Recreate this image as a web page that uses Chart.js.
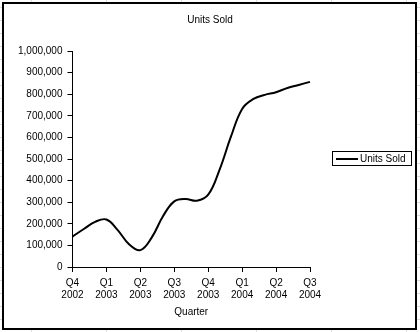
<!DOCTYPE html>
<html>
<head>
<meta charset="utf-8">
<script src="https://cdn.jsdelivr.net/npm/chart.js@4"></script>
<style>
  html, body { margin: 0; padding: 0; background: #fff; }
  #wrap { width: 420px; height: 332px; }
</style>
</head>
<body>
<div id="wrap"><canvas id="chart"></canvas></div>
<script>
// quarter tick labels, one every third month
const quarters = [['Q4', '2002'], ['Q1', '2003'], ['Q2', '2003'], ['Q3', '2003'],
                  ['Q4', '2003'], ['Q1', '2004'], ['Q2', '2004'], ['Q3', '2004']];
// monthly units sold
const unitsSold = [141000, 176000, 209000, 220000, 171000, 105000, 78000,
                   136000, 235000, 304000, 315000, 307000, 335000, 450000,
                   602000, 732000, 778000, 797000, 809000, 829000, 843000, 857000];
const yTicks = [0, 100000, 200000, 300000, 400000, 500000, 600000, 700000, 800000, 900000, 1000000];
const chartTitle = 'Units Sold';

const labels = unitsSold.map((v, i) => (i % 3 === 0 ? quarters[i / 3] : ''));
const font = { family: 'Arial, "Liberation Sans", sans-serif', size: 10 };

// sheet background, outer frame and title across the full width
const frame = {
  id: 'frame',
  beforeDraw(chart) {
    const c = chart.ctx;
    c.save();
    c.fillStyle = '#fff';
    c.fillRect(0, 0, chart.width, chart.height);
    c.strokeStyle = '#dcdcdc';
    c.lineWidth = 1;
    for (let x = 31.5; x < chart.width; x += 75) {
      c.beginPath(); c.moveTo(x, 0); c.lineTo(x, chart.height); c.stroke();
    }
    for (let y = 7.5; y < chart.height; y += 13) {
      c.beginPath(); c.moveTo(0, y); c.lineTo(chart.width, y); c.stroke();
    }
    c.fillStyle = '#fff';
    c.fillRect(2, 2, 415, 328);
    c.strokeStyle = '#000';
    c.lineWidth = 2;
    c.strokeRect(3, 3, 413, 326);
    c.fillStyle = '#000';
    c.font = '10px Arial, "Liberation Sans", sans-serif';
    c.textAlign = 'center';
    c.textBaseline = 'middle';
    c.fillText(chartTitle, chart.width / 2, 20);
    c.restore();
  }
};

// boxed legend on the right
const boxLegend = {
  id: 'boxLegend',
  afterDraw(chart) {
    const c = chart.ctx;
    const a = chart.chartArea;
    const ds = chart.data.datasets[0];
    const x = a.right + 22;
    const y = Math.round((a.top + a.bottom) / 2) - 0.5;
    c.save();
    c.font = '10px Arial, "Liberation Sans", sans-serif';
    const w = 28 + c.measureText(ds.label).width + 5;
    c.strokeStyle = '#000';
    c.lineWidth = 1;
    c.strokeRect(x + 0.5, y - 7, Math.round(w), 14);
    c.strokeStyle = ds.borderColor;
    c.lineWidth = 2;
    c.beginPath(); c.moveTo(x + 4, y + 0.5); c.lineTo(x + 26, y + 0.5); c.stroke();
    c.fillStyle = '#000';
    c.textBaseline = 'middle';
    c.fillText(ds.label, x + 28, y + 1);
    c.restore();
  }
};

new Chart(document.getElementById('chart'), {
  type: 'line',
  data: {
    labels: labels,
    datasets: [{
      label: 'Units Sold',
      data: unitsSold,
      borderColor: '#000',
      borderWidth: 2,
      pointRadius: 0,
      tension: 0.4,
      fill: false
    }]
  },
  options: {
    responsive: true,
    maintainAspectRatio: false,
    animation: false,
    layout: { padding: { left: 13, right: 110, top: 51, bottom: 14 } },
    plugins: {
      legend: { display: false },
      tooltip: { enabled: false },
      title: { display: false }
    },
    scales: {
      x: {
        offset: false,
        border: { color: '#000', width: 1 },
        grid: {
          drawOnChartArea: false,
          tickLength: 5,
          color: ctx => (ctx.index % 3 === 0 ? '#000' : 'rgba(0,0,0,0)')
        },
        ticks: {
          autoSkip: false,
          maxRotation: 0,
          padding: 5,
          color: '#000',
          font: font
        },
        title: {
          display: true,
          text: 'Quarter',
          color: '#000',
          font: font,
          padding: { top: 0, bottom: 0 }
        }
      },
      y: {
        min: 0,
        max: 1000000,
        afterBuildTicks: axis => { axis.ticks = yTicks.map(v => ({ value: v })); },
        border: { color: '#000', width: 1 },
        grid: { drawOnChartArea: false, tickLength: 5, color: '#000' },
        ticks: {
          padding: 5,
          color: '#000',
          font: font,
          callback: v => v.toLocaleString('en-US')
        }
      }
    }
  },
  plugins: [frame, boxLegend]
});
</script>
</body>
</html>
